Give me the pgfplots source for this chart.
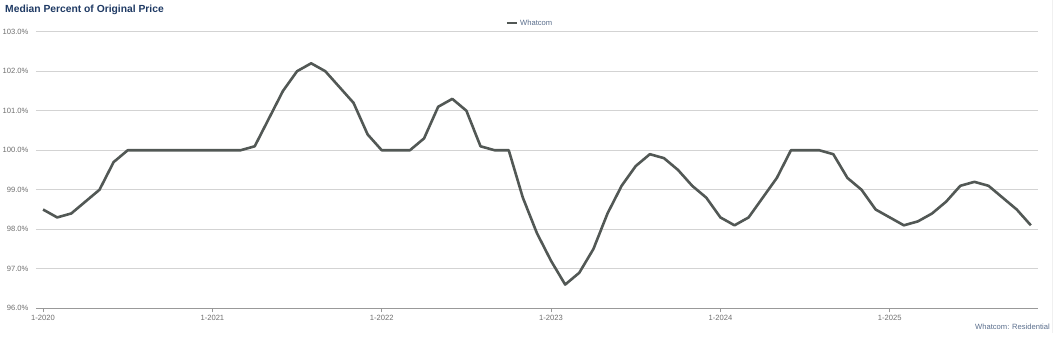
\documentclass[border=0pt]{standalone}
\usepackage{pgfplots}
\pgfplotsset{compat=1.18}
\usepackage{fontspec}
\setmainfont{Liberation Sans}
\definecolor{titleblue}{HTML}{1F3A64}
\definecolor{linegray}{HTML}{525855}
\definecolor{tickgray}{HTML}{6E6E6E}
\definecolor{gridgray}{HTML}{D3D3D3}
\definecolor{slate}{HTML}{5A6E8C}
\pgfplotstableread{
m v
0 98.5
1 98.3
2 98.4
3 98.7
4 99.0
5 99.7
6 100.0
7 100.0
8 100.0
9 100.0
10 100.0
11 100.0
12 100.0
13 100.0
14 100.0
15 100.1
16 100.8
17 101.5
18 102.0
19 102.2
20 102.0
21 101.6
22 101.2
23 100.4
24 100.0
25 100.0
26 100.0
27 100.3
28 101.1
29 101.3
30 101.0
31 100.1
32 100.0
33 100.0
34 98.8
35 97.9
36 97.2
37 96.6
38 96.9
39 97.5
40 98.4
41 99.1
42 99.6
43 99.9
44 99.8
45 99.5
46 99.1
47 98.8
48 98.3
49 98.1
50 98.3
51 98.8
52 99.3
53 100.0
54 100.0
55 100.0
56 99.9
57 99.3
58 99.0
59 98.5
60 98.3
61 98.1
62 98.2
63 98.4
64 98.7
65 99.1
66 99.2
67 99.1
68 98.8
69 98.5
70 98.1
}\datatable
\begin{document}
\begin{tikzpicture}[x=1pt,y=1pt]
\useasboundingbox (0,0) rectangle (1055,345);
\draw[black!6, line width=1pt] (1052,12) -- (1052,345);
\node[anchor=west, font=\fontsize{10.3}{12}\selectfont\bfseries, text=titleblue, inner sep=0pt] at (5,335) {Median Percent of Original Price};
\node[anchor=east, font=\fontsize{7.6}{9}\selectfont, text=slate, inner sep=0pt] at (1050,18) {Whatcom: Residential};
\begin{axis}[
  at={(36pt,36.7pt)}, anchor=south west,
  scale only axis, width=1002pt, height=276.6pt,
  xmin=-0.5, xmax=70.5, ymin=96, ymax=103,
  axis x line=bottom, axis y line=left,
  x axis line style={-, draw=black!40, line width=1.2pt},
  y axis line style={draw=none},
  ytick={96,97,98,99,100,101,102,103},
  yticklabels={96.0\%,97.0\%,98.0\%,99.0\%,100.0\%,101.0\%,102.0\%,103.0\%},
  ymajorgrids, major grid style={draw=gridgray, line width=0.9pt},
  ytick style={draw=none},
  xtick={0,12,24,36,48,60},
  xticklabels={1-2020,1-2021,1-2022,1-2023,1-2024,1-2025},
  xtick style={draw=black!40, line width=0.8pt},
  tick align=outside, major tick length=4pt,
  xticklabel style={font=\fontsize{7.6}{9}\selectfont, text=tickgray, yshift=1pt},
  yticklabel style={font=\fontsize{7.6}{9}\selectfont, text=tickgray},
  legend style={at={(0.493,1.031)}, anchor=center, draw=none, fill=none,
    font=\fontsize{7.6}{9}\selectfont, text=slate, inner sep=0pt},
  legend image code/.code={\draw[#1, line width=2.6pt] (0pt,0pt) -- (10pt,0pt);},
]
\addplot[linegray, line width=2.6pt, line join=round, no markers] table[x=m, y=v] {\datatable};
\addlegendentry{Whatcom}
\end{axis}
\end{tikzpicture}
\end{document}
